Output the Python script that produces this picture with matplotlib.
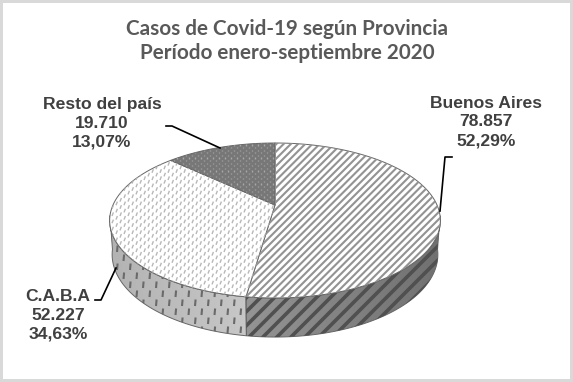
#!/usr/bin/env python
import numpy as np
import matplotlib
matplotlib.use('Agg')
import matplotlib.pyplot as plt
from matplotlib.collections import LineCollection
from matplotlib.patches import Polygon

provincias = ['Buenos Aires', 'C.A.B.A', 'Resto del país']
casos = [78857, 52227, 19710]
casos_txt = ['78.857', '52.227', '19.710']
porcentajes = ['52,29%', '34,63%', '13,07%']
titulo = 'Casos de Covid-19 según Provincia\nPeríodo enero-septiembre 2020'

CX, CY = 275, 205
A, B, K = 162, 74.4, 0.2
DEPTH, STRETCH, SHRINK = 33, 1.065, 0.985


def project(theta, lower=False):
    """Tilted disc: theta clockwise from the top, returns pixel coords."""
    u, v = np.sin(theta), np.cos(theta)
    w = 1 + K * v
    x, y = A * u / w, B * v / w
    if lower:
        return CX + x * SHRINK, CY - (y * STRETCH - DEPTH)
    return CX + x, CY - y


def stripes(ax, patch, period, color, lw):
    """Diagonal stripes clipped to a patch."""
    offs = np.arange(-300, 1000, period)
    segs = [[(o, 382), (o + 382, 0)] for o in offs]
    lc = LineCollection(segs, colors=color, linewidths=lw, zorder=patch.get_zorder() + 0.1)
    ax.add_collection(lc)
    lc.set_clip_path(patch)


def dashes(ax, patch, dx, dy, length, dxlean, color, lw):
    """Staggered short dashes clipped to a patch."""
    segs = []
    for i, y in enumerate(np.arange(0, 382, dy)):
        for x in np.arange((i % 2) * dx / 2, 573, dx):
            segs.append([(x, y), (x + dxlean, y - length)])
    lc = LineCollection(segs, colors=color, linewidths=lw, zorder=patch.get_zorder() + 0.1)
    ax.add_collection(lc)
    lc.set_clip_path(patch)


def gradient(ax, patch, left, right):
    ext = patch.get_extents()
    x0, x1 = ax.transData.inverted().transform([(ext.x0, 0), (ext.x1, 0)])[:, 0]
    im = ax.imshow(np.linspace(left, right, 256).reshape(1, -1), cmap='gray', vmin=0, vmax=1,
                   extent=(x0, x1, 382, 0), aspect='auto', zorder=patch.get_zorder() - 0.05)
    im.set_clip_path(patch)


def plot():
    fig = plt.figure(figsize=(5.73, 3.82), dpi=100)
    ax = fig.add_axes([0, 0, 1, 1])
    ax.set_xlim(0, 573)
    ax.set_ylim(382, 0)
    ax.axis('off')

    bounds = 2 * np.pi * np.cumsum([0] + casos) / sum(casos)

    # wall of the disc, between the widest points of the ellipse
    right, left = np.radians(98), np.radians(262)
    walls = [(right, bounds[1]), (bounds[1], left)]
    wall_patches = []
    for t0, t1 in walls:
        th = np.linspace(t0, t1, 120)
        xu, yu = project(th)
        xl, yl = project(th, lower=True)
        pts = np.column_stack([np.r_[xu, xl[::-1]], np.r_[yu, yl[::-1]]])
        p = Polygon(pts, closed=True, facecolor='none', edgecolor='#666666', lw=0.7, zorder=2)
        ax.add_patch(p)
        wall_patches.append(p)
    gradient(ax, wall_patches[0], 0.58, 0.44)
    gradient(ax, wall_patches[1], 0.70, 0.78)
    ax.set_xlim(0, 573)
    ax.set_ylim(382, 0)
    stripes(ax, wall_patches[0], 14, '#505050', 2.6)
    dashes(ax, wall_patches[1], 13, 9, 6.5, 0.6, '#6a6a6a', 1.5)

    # top of the disc
    faces = ['#ffffff', '#ffffff', '#777777']
    face_patches = []
    for i, col in enumerate(faces):
        th = np.linspace(bounds[i], bounds[i + 1], 150)
        x, y = project(th)
        pts = np.column_stack([np.r_[CX, x], np.r_[CY, y]])
        p = Polygon(pts, closed=True, facecolor=col, edgecolor='#666666', lw=0.7, zorder=3)
        ax.add_patch(p)
        face_patches.append(p)
    stripes(ax, face_patches[0], 7.2, '#939393', 1.5)
    dashes(ax, face_patches[1], 8, 3.6, 3.6, 1.4, '#b8b8b8', 1.0)
    dashes(ax, face_patches[2], 6, 2.6, 1.2, 0, '#a8a8a8', 1.0)

    # leader lines
    ax.plot([452, 445, 440], [157, 157, 211], color='black', lw=1.2, zorder=5)
    ax.plot([166, 172, 220], [126, 126, 148], color='black', lw=1.2, zorder=5)
    ax.plot([95, 101, 116], [300, 300, 268], color='black', lw=1.2, zorder=5)

    label_pos = [(486, 122), (58, 315), (102, 123)]
    for i, (x, y) in enumerate(label_pos):
        ax.text(x, y, f'{provincias[i]}\n{casos_txt[i]}\n{porcentajes[i]}', ha='center', va='center',
                fontsize=12.6, fontweight='bold', color='#404040', family='Liberation Sans',
                linespacing=1.32, zorder=6)

    ax.text(287, 41, titulo, ha='center', va='center', fontsize=14.9, fontweight='bold',
            color='#595959', family='Lato', linespacing=1.28, zorder=6)

    fig.patch.set_edgecolor('#d9d9d9')
    fig.patch.set_linewidth(4)
    fig.savefig('out.png', dpi=100, edgecolor=fig.get_edgecolor())


def main():
    plot()


if __name__ == '__main__':
    main()
